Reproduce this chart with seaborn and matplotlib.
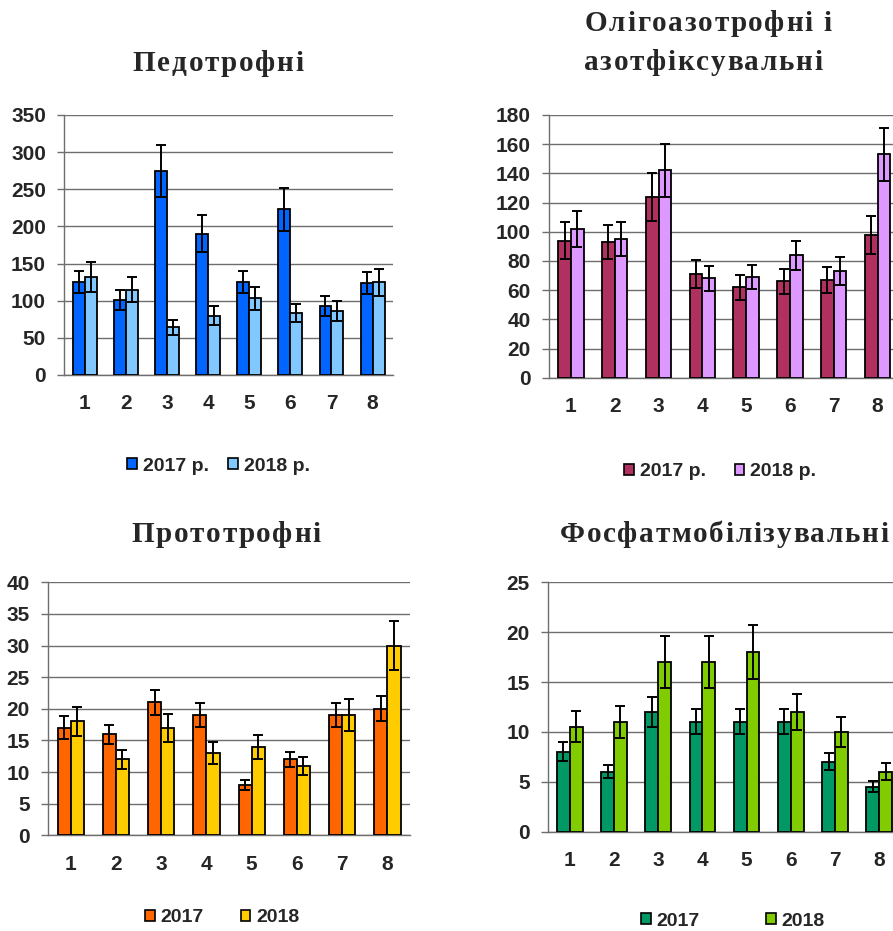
import matplotlib
matplotlib.use("Agg")
import matplotlib.pyplot as plt
from matplotlib.font_manager import FontProperties
from matplotlib.patches import Patch
import numpy as np
import pandas as pd
import seaborn as sns

# ---- data -------------------------------------------------------------
categories = ["1", "2", "3", "4", "5", "6", "7", "8"]
years_top = ["2017 р.", "2018 р."]
years_bottom = ["2017", "2018"]

pedo_2017 = [125, 101, 275, 190, 125, 223, 93, 124]
pedo_2018 = [132, 115, 64, 80, 103, 84, 86, 125]
pedo_err_2017 = [15, 13, 35, 25, 15, 29, 13, 15]
pedo_err_2018 = [20, 17, 10, 13, 16, 12, 13, 18]

oligo_2017 = [94, 93, 124, 71, 62, 66, 67, 98]
oligo_2018 = [102, 95, 142, 68, 69, 84, 73, 153]
oligo_err_2017 = [13, 11.5, 16.5, 9.5, 8.5, 8.5, 9, 13]
oligo_err_2018 = [12.5, 11.5, 18, 8.5, 8.5, 10, 9.5, 18]

proto_2017 = [17, 16, 21, 19, 8, 12, 19, 20]
proto_2018 = [18, 12, 17, 13, 14, 11, 19, 30]
proto_err_2017 = [1.8, 1.5, 2.0, 1.9, 0.8, 1.2, 1.9, 2.0]
proto_err_2018 = [2.3, 1.5, 2.2, 1.7, 1.9, 1.4, 2.5, 3.9]

phos_2017 = [8, 6, 12, 11, 11, 11, 7, 4.5]
phos_2018 = [10.5, 11, 17, 17, 18, 12, 10, 6]
phos_err_2017 = [0.95, 0.65, 1.5, 1.25, 1.25, 1.25, 0.85, 0.55]
phos_err_2018 = [1.55, 1.65, 2.6, 2.6, 2.7, 1.8, 1.5, 0.85]

# ---- style ------------------------------------------------------------
sns.set_style("white")
plt.rcParams["font.family"] = ["Liberation Sans", "DejaVu Sans"]
plt.rcParams["font.weight"] = "bold"

W, H = 893, 931
DPI = 100
GRID = "#6e6e6e"
TICK_SIZE = 15

fig = plt.figure(figsize=(W / DPI, H / DPI), dpi=DPI)


def add_axes_px(left, top, bottom, width):
    return fig.add_axes([left / W, 1 - bottom / H, width / W, (bottom - top) / H])


def draw_panel(ax, v17, v18, e17, e18, labels, colors, ymax, ystep, xmax):
    df = pd.DataFrame({
        "cat": categories * 2,
        "year": [labels[0]] * len(categories) + [labels[1]] * len(categories),
        "value": v17 + v18,
    })
    sns.barplot(data=df, x="cat", y="value", hue="year", hue_order=labels,
                palette=colors, saturation=1, width=0.58, edgecolor="black",
                linewidth=1.3, errorbar=None, legend=False, ax=ax, zorder=3)
    for container, errs in zip(ax.containers, [e17, e18]):
        xs = [p.get_x() + p.get_width() / 2 for p in container]
        ys = [p.get_height() for p in container]
        ax.errorbar(xs, ys, yerr=errs, fmt="none", ecolor="black",
                    elinewidth=1.4, capsize=3.3, capthick=1.4, zorder=4)

    ax.set_xlim(-0.5, xmax)
    ax.set_ylim(0, ymax)
    ax.set_yticks(np.arange(0, ymax + ystep / 2, ystep))
    ax.set_xticks(range(len(categories)))
    ax.set_xticklabels(categories)
    ax.set_xticks(np.arange(-0.5, len(categories), 1), minor=True)
    ax.tick_params(axis="x", which="major", length=0, pad=14,
                   labelsize=TICK_SIZE)
    ax.tick_params(axis="x", which="minor", length=5, width=1, color=GRID,
                   direction="out")
    ax.tick_params(axis="y", length=5, width=1, color=GRID, pad=8,
                   labelsize=TICK_SIZE, left=True)
    ax.yaxis.grid(True, color=GRID, lw=1)
    ax.set_axisbelow(True)
    ax.set_xlabel("")
    ax.set_ylabel("")
    for side in ("top", "right"):
        ax.spines[side].set_visible(False)
    for side in ("left", "bottom"):
        ax.spines[side].set_color(GRID)
        ax.spines[side].set_linewidth(1)


def add_legend(labels, colors, x_px, y_px, colspace):
    handles = [Patch(facecolor=c, edgecolor="black", lw=1.2) for c in colors]
    fig.legend(handles, labels, loc="center left",
               bbox_to_anchor=(x_px / W, 1 - y_px / H), ncol=2, frameon=False,
               handlelength=0.5, handleheight=0.5, handletextpad=0.3,
               columnspacing=colspace, borderpad=0, borderaxespad=0,
               prop=FontProperties(family="Liberation Sans", weight="bold",
                                   size=14))


def spaced_title(text, xc, baseline, size=21, spacing=1.7):
    renderer = fig.canvas.get_renderer()
    prop = FontProperties(family="Liberation Serif", weight="bold", size=size)
    widths = []
    for ch in text:
        if ch == " ":
            widths.append(0.25 * size * DPI / 72)
        else:
            w, _, _ = renderer.get_text_width_height_descent(ch, prop, ismath=False)
            widths.append(w)
    total = sum(widths) + spacing * (len(text) - 1)
    x = xc - total / 2
    for ch, w in zip(text, widths):
        if ch != " ":
            fig.text(x / W, 1 - baseline / H, ch, fontproperties=prop,
                     ha="left", va="baseline")
        x += w + spacing


# ---- panels -----------------------------------------------------------
ax1 = add_axes_px(64, 115, 375, 7.8 * 42.2)
draw_panel(ax1, pedo_2017, pedo_2018, pedo_err_2017, pedo_err_2018,
           years_top, ["#0066FF", "#80C8FF"], 350, 50, 7.3)

ax2 = add_axes_px(549, 115, 377.7, 8 * 43.8)
draw_panel(ax2, oligo_2017, oligo_2018, oligo_err_2017, oligo_err_2018,
           years_top, ["#B03060", "#DD99FF"], 180, 20, 7.5)

ax3 = add_axes_px(48, 582.3, 835.3, 7.82 * 46.3)
draw_panel(ax3, proto_2017, proto_2018, proto_err_2017, proto_err_2018,
           years_bottom, ["#FF6600", "#FFCC00"], 40, 5, 7.32)

ax4 = add_axes_px(547.7, 582.3, 831.7, 8 * 44.2)
draw_panel(ax4, phos_2017, phos_2018, phos_err_2017, phos_err_2018,
           years_bottom, ["#009966", "#80CC00"], 25, 5, 7.5)

# ---- legends ----------------------------------------------------------
add_legend(years_top, ["#0066FF", "#80C8FF"], 127, 466, 1.0)
add_legend(years_top, ["#B03060", "#DD99FF"], 624, 472, 1.5)
add_legend(years_bottom, ["#FF6600", "#FFCC00"], 145, 918, 1.9)
add_legend(years_bottom, ["#009966", "#80CC00"], 641, 921, 3.4)

# ---- titles -----------------------------------------------------------
spaced_title("Педотрофні", 218, 71)
spaced_title("Олігоазотрофні і", 708, 31)
spaced_title("азотфіксувальні", 703, 70)
spaced_title("Прототрофні", 226, 542)
spaced_title("Фосфатмобілізувальні", 724, 542)

fig.savefig("out.png", dpi=DPI)
